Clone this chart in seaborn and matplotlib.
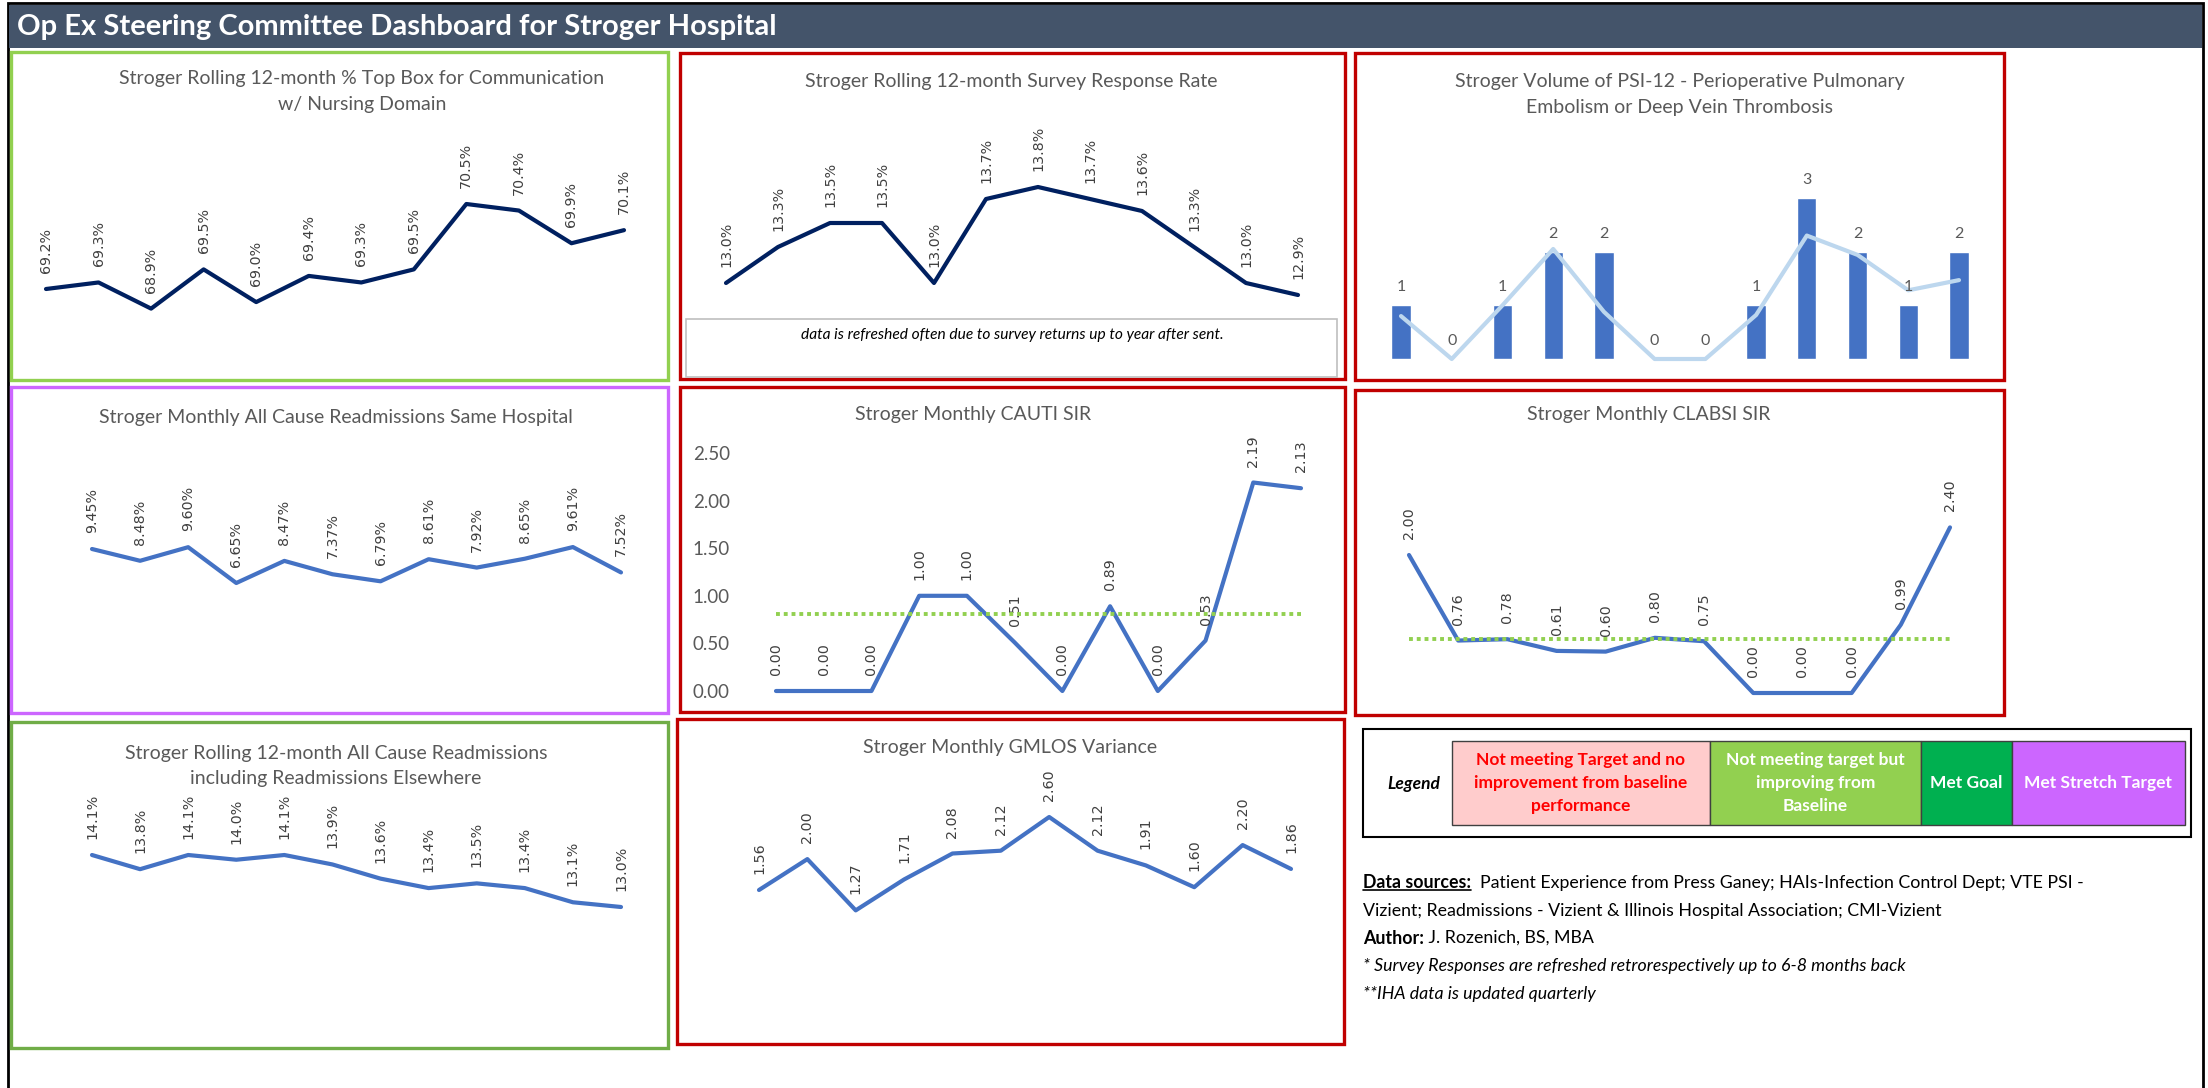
import numpy as np
import matplotlib
matplotlib.use("Agg")
import matplotlib.pyplot as plt
from matplotlib.patches import Rectangle
from matplotlib.lines import Line2D
import seaborn as sns

# values, 12 months per chart
top_box_comm = [69.2, 69.3, 68.9, 69.5, 69.0, 69.4, 69.3, 69.5, 70.5, 70.4, 69.9, 70.1]
survey_resp = [13.0, 13.3, 13.5, 13.5, 13.0, 13.7, 13.8, 13.7, 13.6, 13.3, 13.0, 12.9]
psi12_volume = [1, 0, 1, 2, 2, 0, 0, 1, 3, 2, 1, 2]
psi12_trend = [0.8, 0.0, 1.0, 2.05, 0.88, 0.0, 0.0, 0.82, 2.3, 1.94, 1.28, 1.47]
readmit_same = [9.45, 8.48, 9.60, 6.65, 8.47, 7.37, 6.79, 8.61, 7.92, 8.65, 9.61, 7.52]
cauti_sir = [0.00, 0.00, 0.00, 1.00, 1.00, 0.51, 0.00, 0.89, 0.00, 0.53, 2.19, 2.13]
cauti_target = 0.81
cauti_ticks = [0.0, 0.5, 1.0, 1.5, 2.0, 2.5]
clabsi_sir = [2.00, 0.76, 0.78, 0.61, 0.60, 0.80, 0.75, 0.00, 0.00, 0.00, 0.99, 2.40]
clabsi_target = 0.78
readmit_all = [14.1, 13.8, 14.1, 14.0, 14.1, 13.9, 13.6, 13.4, 13.5, 13.4, 13.1, 13.0]
gmlos_var = [1.56, 2.00, 1.27, 1.71, 2.08, 2.12, 2.60, 2.12, 1.91, 1.60, 2.20, 1.86]

legend_labels = ["Not meeting Target and no\nimprovement from baseline\nperformance",
                 "Not meeting target but\nimproving from\nBaseline",
                 "Met Goal", "Met Stretch Target"]
legend_fill = ["#FFCCCC", "#92D050", "#00B050", "#CC66FF"]
legend_text = ["#FF0000", "white", "white", "white"]

sns.set_theme(style="white")
plt.rcParams["font.family"] = ["Lato", "DejaVu Sans"]

W, H = 2208, 1088
fig = plt.figure(figsize=(W / 100, H / 100), dpi=100)
fig.patch.set_facecolor("white")


def fbox(x0, y0, x1, y1):
    # pixel box (top-left origin) -> figure fraction rect
    return [x0 / W, 1 - y1 / H, (x1 - x0) / W, (y1 - y0) / H]


def frame(x0, y0, x1, y1, color, lw=2.4, fill=None):
    r = Rectangle((x0 / W, 1 - y1 / H), (x1 - x0) / W, (y1 - y0) / H, transform=fig.transFigure,
                  fill=fill is not None, facecolor=fill, edgecolor=color, linewidth=lw)
    fig.add_artist(r)


def chart(first, last, n, top, bot):
    step = (last - first) / (n - 1)
    ax = fig.add_axes(fbox(first - step / 2, top, last + step / 2, bot))
    ax.set_facecolor("none")
    return ax


def set_limits(ax, n, top, bot, pa, va, pb, vb):
    k = (va - vb) / (pb - pa)
    ax.set_xlim(-0.5, n - 0.5)
    ax.set_ylim(va - (bot - pa) * k, va + (pa - top) * k)


def line_chart(vals, color, fmt, first, last, top, bot, pa, va, pb, vb, hide=True):
    n = len(vals)
    ax = chart(first, last, n, top, bot)
    sns.lineplot(x=np.arange(n), y=vals, ax=ax, color=color, linewidth=3, legend=False)
    for i, v in enumerate(vals):
        ax.annotate(fmt.format(v), (i, v), xytext=(0, 11.5), textcoords="offset points",
                    rotation=90, ha="center", va="bottom", fontsize=10.3, color="#404040",
                    family="DejaVu Sans")
    set_limits(ax, n, top, bot, pa, va, pb, vb)
    if hide:
        ax.axis("off")
    return ax


def title(x, y, s):
    fig.text(x / W, 1 - y / H, s, ha="center", va="center", fontsize=14, color="#595959",
             linespacing=1.6)


# outer frame and header
frame(8, 3, 2203, 1120, "black", lw=2)
frame(9, 5, 2202, 48, "#44546A", lw=0, fill="#44546A")
fig.text(17 / W, 1 - 27 / H, "Op Ex Steering Committee Dashboard for Stroger Hospital",
         color="white", fontsize=21, weight="bold", va="center")

# panel borders
frame(11, 52, 668, 380, "#92D050")
frame(680, 53, 1345, 379, "#C00000")
frame(1355, 53, 2004, 380, "#C00000")
frame(11, 387, 668, 713, "#CC66FF")
frame(680, 387, 1345, 712, "#C00000")
frame(1355, 390, 2004, 715, "#C00000")
frame(11, 722, 668, 1048, "#70AD47")
frame(677, 719, 1344, 1044, "#C00000")

# 1. top box communication
title(362, 91.5, "Stroger Rolling 12-month % Top Box for Communication\nw/ Nursing Domain")
line_chart(top_box_comm, "#002060", "{:.1f}%", 46, 624, 120, 370, 289, 69.2, 204, 70.5)

# 2. survey response rate
title(1011, 82, "Stroger Rolling 12-month Survey Response Rate")
line_chart(survey_resp, "#002060", "{:.1f}%", 726, 1298, 120, 310, 283, 13.0, 187, 13.8)
frame(686, 319, 1337, 377, "#BFBFBF", lw=1.2, fill="white")
fig.text(1012 / W, 1 - 335 / H, "data is refreshed often due to survey returns up to year after sent.",
         ha="center", va="center", fontsize=11.2, style="italic", color="black")

# 3. PSI-12 volume
title(1680, 94.5, "Stroger Volume of PSI-12 - Perioperative Pulmonary\nEmbolism or Deep Vein Thrombosis")
n = len(psi12_volume)
ax = chart(1401, 1959, n, 130, 366)
sns.barplot(x=np.arange(n), y=psi12_volume, ax=ax, color="#4472C4", width=0.38, saturation=1)
sns.lineplot(x=np.arange(n), y=psi12_trend, ax=ax, color="#BDD7EE", linewidth=3, legend=False)
for i, v in enumerate(psi12_volume):
    ax.annotate(str(v), (i, v), xytext=(0, 8), textcoords="offset points", ha="center",
                va="bottom", fontsize=11.5, color="#595959")
set_limits(ax, n, 130, 366, 359, 0, 198, 3)
ax.axis("off")

# 4. readmissions same hospital
title(336, 417, "Stroger Monthly All Cause Readmissions Same Hospital")
line_chart(readmit_same, "#4472C4", "{:.2f}%", 92, 621, 440, 700, 549, 9.45, 583, 6.65)

# 5. CAUTI SIR
title(973, 415, "Stroger Monthly CAUTI SIR")
ax = line_chart(cauti_sir, "#4472C4", "{:.2f}", 776, 1301, 440, 702, 691, 0.0, 453, 2.5, hide=False)
sns.lineplot(x=np.arange(len(cauti_sir)), y=np.full(len(cauti_sir), cauti_target), ax=ax,
             color="#92D050", linewidth=2.8, linestyle=(0, (1, 1)), legend=False, zorder=5)
ax.set_yticks(cauti_ticks)
ax.set_yticklabels([f"{t:.2f}" for t in cauti_ticks], fontsize=13.5, color="#595959")
ax.set_xticks([])
ax.tick_params(axis="y", length=0, pad=16)
sns.despine(ax=ax, left=True, bottom=True)
ax.grid(False)

# 6. CLABSI SIR
title(1649, 415, "Stroger Monthly CLABSI SIR")
ax = line_chart(clabsi_sir, "#4472C4", "{:.2f}", 1409, 1950, 440, 705, 693, 0.0, 555, 2.0)
sns.lineplot(x=np.arange(len(clabsi_sir)), y=np.full(len(clabsi_sir), clabsi_target), ax=ax,
             color="#92D050", linewidth=2.8, linestyle=(0, (1, 1)), legend=False, zorder=5)
set_limits(ax, len(clabsi_sir), 440, 705, 693, 0.0, 555, 2.0)

# 7. readmissions incl elsewhere
title(336, 766, "Stroger Rolling 12-month All Cause Readmissions\nincluding Readmissions Elsewhere")
line_chart(readmit_all, "#4472C4", "{:.1f}%", 92, 621, 790, 1040, 855, 14.1, 907, 13.0)

# 8. GMLOS variance
title(1010, 748, "Stroger Monthly GMLOS Variance")
line_chart(gmlos_var, "#4472C4", "{:.2f}", 759, 1291, 770, 1040, 890, 1.56, 817, 2.60)

# legend table
frame(1363, 729, 2191, 837, "black", lw=1.5)
fig.text(1414 / W, 1 - 784 / H, "Legend", ha="center", va="center", fontsize=12.5,
         weight="bold", style="italic", color="black")
edges = [1452, 1710, 1921, 2012, 2185]
for i, lab in enumerate(legend_labels):
    frame(edges[i], 741, edges[i + 1], 825, "#404040", lw=1, fill=legend_fill[i])
    fig.text((edges[i] + edges[i + 1]) / 2 / W, 1 - 783 / H, lab, ha="center", va="center",
             fontsize=12.5, weight="bold", color=legend_text[i], linespacing=1.55)

# notes
renderer = fig.canvas.get_renderer()
x0 = 1363 / W
t = fig.text(x0, 1 - 883 / H, "Data sources:", fontsize=12.8, weight="bold", va="center", color="black")
bb = t.get_window_extent(renderer)
fig.add_artist(Line2D([bb.x0 / W, bb.x1 / W], [(bb.y0 + 2) / H] * 2, color="black", linewidth=1.2))
fig.text(bb.x1 / W, 1 - 883 / H, "  Patient Experience from Press Ganey; HAIs-Infection Control Dept; VTE PSI -",
         fontsize=12.8, va="center", color="black")
fig.text(x0, 1 - 911 / H, "Vizient; Readmissions - Vizient & Illinois Hospital Association; CMI-Vizient",
         fontsize=12.8, va="center", color="black")
t = fig.text(x0, 1 - 938 / H, "Author:", fontsize=12.8, weight="bold", va="center", color="black")
bb = t.get_window_extent(renderer)
fig.text(bb.x1 / W, 1 - 938 / H, " J. Rozenich, BS, MBA", fontsize=12.8, va="center", color="black")
fig.text(x0, 1 - 966 / H, "* Survey Responses are refreshed retrorespectively up to 6-8 months back",
         fontsize=12.8, style="italic", va="center", color="black")
fig.text(x0, 1 - 994 / H, "**IHA data is updated quarterly", fontsize=12.8, style="italic",
         va="center", color="black")

fig.savefig("out.png", dpi=100)
